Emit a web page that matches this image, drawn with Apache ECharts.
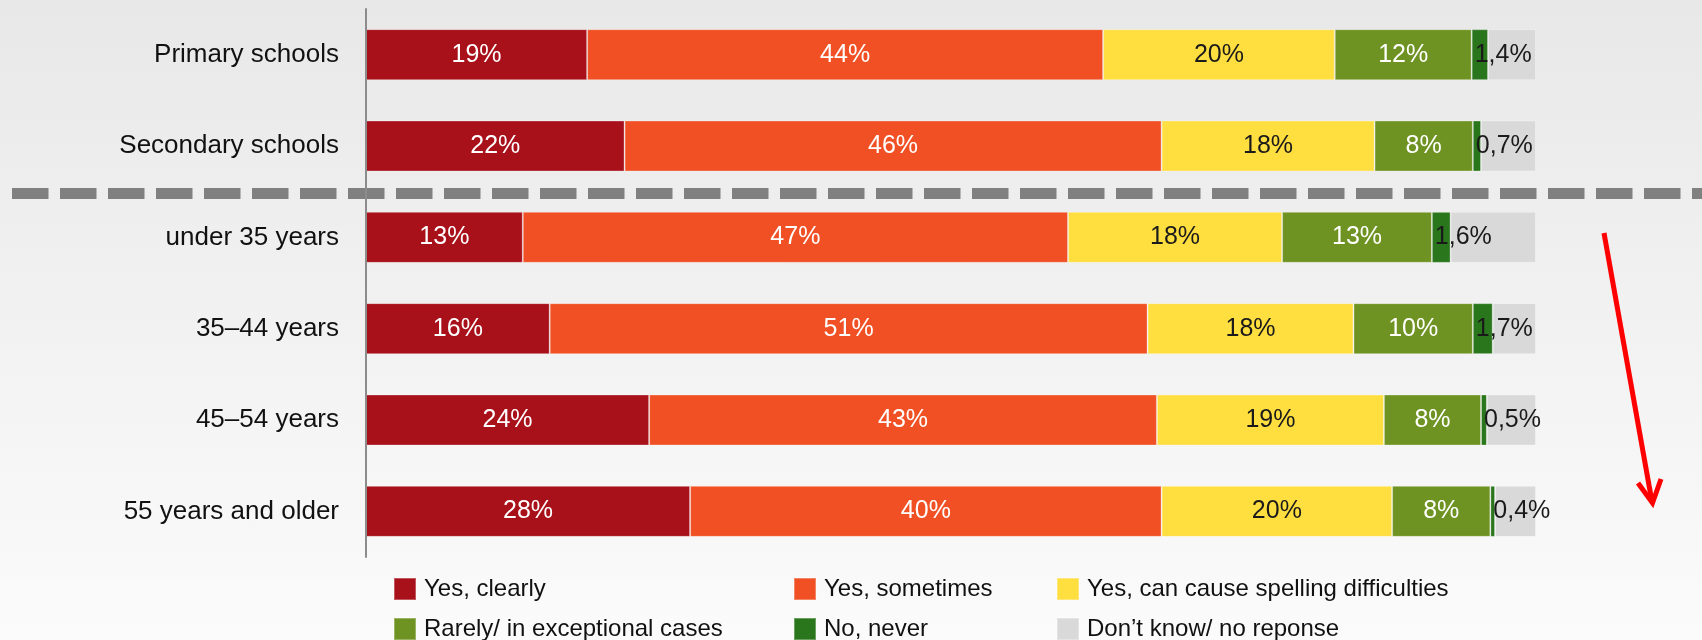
<!DOCTYPE html>
<html>
<head>
<meta charset="utf-8">
<script src="https://cdn.jsdelivr.net/npm/echarts@6/dist/echarts.min.js"></script>
<style>
  html, body { margin: 0; padding: 0; }
  #chart { width: 1702px; height: 640px; background: linear-gradient(#e8e8e8, #fbfbfb); }
</style>
</head>
<body>
<div id="chart"></div>
<script>
const categories = ['Primary schools', 'Secondary schools', 'under 35 years', '35–44 years', '45–54 years', '55 years and older'];
const seriesNames = ['Yes, clearly', 'Yes, sometimes', 'Yes, can cause spelling difficulties', 'Rarely/ in exceptional cases', 'No, never', 'Don’t know/ no reponse'];
const yesClearly   = [18.9, 22.1, 13.4, 15.7, 24.2, 27.7];
const yesSometimes = [44.1, 45.9, 46.6, 51.1, 43.4, 40.3];
const yesSpelling  = [19.8, 18.2, 18.3, 17.6, 19.4, 19.7];
const rarely       = [11.7, 8.4, 12.8, 10.2, 8.3, 8.4];
const noNever      = [1.4, 0.7, 1.6, 1.7, 0.5, 0.4];
const dontKnow     = [4.1, 4.7, 7.3, 3.7, 4.2, 3.5];

const colors = ['#a8101a', '#f05024', '#ffde40', '#6f9322', '#2a761c', '#d9d9d9'];
const labelColors = ['#ffffff', '#ffffff', '#1a1a1a', '#ffffff', '#1a1a1a', '#1a1a1a'];
const values = [yesClearly, yesSometimes, yesSpelling, rarely, noNever, dontKnow];
const FONT = "'Liberation Sans', Arial, sans-serif";

const series = values.map((vals, i) => {
  const s = {
    name: seriesNames[i],
    type: 'bar',
    stack: 'total',
    barWidth: 51,
    data: vals,
    itemStyle: { color: colors[i], borderColor: 'rgba(255,255,255,0.3)', borderWidth: 1 },
    label: {
      show: i < 5,
      position: 'inside',
      color: labelColors[i],
      fontSize: 25,
      fontFamily: FONT,
      formatter: p => Math.round(p.value) + '%'
    },
    emphasis: { disabled: true },
    z: 2
  };
  if (i === 4) {
    s.z = 4;
    s.label.position = [3, '50%'];
    s.label.align = 'left';
    s.label.verticalAlign = 'middle';
    s.label.formatter = p => p.value.toFixed(1).replace('.', ',') + '%';
  }
  return s;
});

const legendBase = {
  orient: 'vertical',
  icon: 'rect',
  itemWidth: 22,
  itemHeight: 22,
  itemGap: 16,
  padding: 0,
  top: 577,
  height: 120,
  selectedMode: false,
  textStyle: { fontSize: 24, lineHeight: 22, color: '#111', fontFamily: FONT, padding: [0, 0, 0, 3] }
};

const chart = echarts.init(document.getElementById('chart'), null, { renderer: 'canvas' });
chart.setOption({
  animation: false,
  color: colors,
  grid: { left: 366, right: 166, top: 9, bottom: 83, containLabel: false },
  xAxis: { type: 'value', min: 0, max: 100, show: false },
  yAxis: {
    type: 'category',
    data: categories,
    inverse: true,
    z: 5,
    axisLine: { show: true, lineStyle: { color: '#8c8c8c', width: 2 } },
    axisTick: { show: false },
    splitLine: { show: false },
    axisLabel: { fontSize: 26, color: '#111', fontFamily: FONT, margin: 27 }
  },
  legend: [
    Object.assign({}, legendBase, { left: 393, data: [seriesNames[0], seriesNames[3]] }),
    Object.assign({}, legendBase, { left: 793, data: [seriesNames[1], seriesNames[4]] }),
    Object.assign({}, legendBase, { left: 1056, data: [seriesNames[2], seriesNames[5]] })
  ],
  graphic: [
    {
      type: 'line', z: 1,
      shape: { x1: 12, y1: 193.5, x2: 1702, y2: 193.5 },
      style: { stroke: '#808080', lineWidth: 11, lineDash: [36.5, 11.5] }
    },
    {
      type: 'polyline', z: 10,
      shape: { points: [[1604, 233], [1652, 502]] },
      style: { stroke: '#ff0000', lineWidth: 5, fill: null }
    },
    {
      type: 'polyline', z: 10,
      shape: { points: [[1638, 483], [1652.5, 503], [1661, 479]] },
      style: { stroke: '#ff0000', lineWidth: 5, fill: null, lineJoin: 'miter' }
    }
  ],
  series: series
});
</script>
</body>
</html>
